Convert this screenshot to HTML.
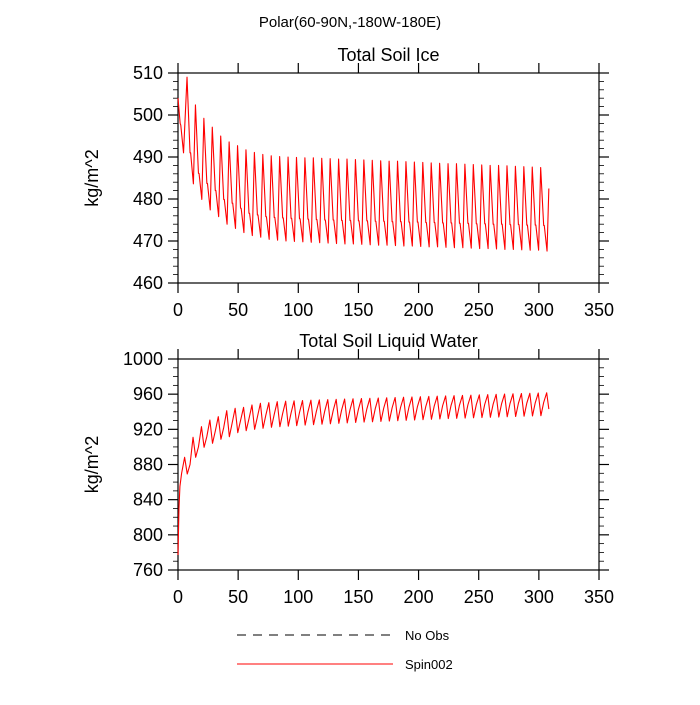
<!DOCTYPE html>
<html><head><meta charset="utf-8"><style>
html,body{margin:0;padding:0;background:#fff;}
svg text{font-family:"Liberation Sans",sans-serif;fill:#000;}
</style></head><body>
<svg id="chart" width="700" height="700" viewBox="0 0 700 700" xmlns="http://www.w3.org/2000/svg">
<text x="350" y="27" font-size="15" text-anchor="middle">Polar(60-90N,-180W-180E)</text>
<g id="p1"></g>
<g id="p2"></g>
<g>
<line x1="237" y1="635" x2="393" y2="635" stroke="#000" stroke-width="1" stroke-dasharray="9,7"/>
<text x="405" y="640" font-size="13">No Obs</text>
<line x1="237" y1="664" x2="393" y2="664" stroke="#f00" stroke-width="1"/>
<text x="405" y="669" font-size="13">Spin002</text>
</g>
</svg>
<script>
const xTicks=[0,50,100,150,200,250,300,350];
// Ice
const iceStartX=[0,1.8,2.3,4.6];
const iceStart=[504,498,497.6,491];
const icePeaks=[509,502.4,499.2,497.1,495,493.6,492.7,491.7,491.1,490.6,490.3,490.1,490,489.9,489.8,489.8,489.7,489.6,489.5,489.5,489.4,489.3,489.2,489.1,489,489,488.9,488.8,488.7,488.6,488.5,488.4,488.4,488.3,488.2,488.1,488,488,487.9,487.8,487.7,487.6,487.5];
const iceShoulders=[491,486.1,483.7,482,479.9,479,477.8,476.6,476.2,475.8,475.6,475.5,475.4,475.3,475.2,475.1,475,475,474.9,474.9,474.8,474.8,474.7,474.7,474.6,474.6,474.5,474.5,474.4,474.4,474.3,474.3,474.2,474.2,474.1,474.1,474,474,473.9,473.9,473.8,473.8,473.7];
const iceTroughs=[483.6,479.9,477.4,475.8,474,473,472,471.3,470.9,470.4,470.2,470,469.9,469.8,469.7,469.6,469.5,469.4,469.3,469.3,469.2,469.1,469,469,468.9,468.8,468.8,468.7,468.6,468.6,468.5,468.4,468.4,468.3,468.2,468.2,468.1,468,468,467.9,467.8,467.8,467.6];
const iceEnd=482.5;
const iceYTicks=[460,470,480,490,500,510];
// Liquid
const liqStartX=[0,0.8,1.6,3];
const liqStart=[777,830,855,870];
const liqPeaks=[888.2,910.9,923,930.6,934.4,941.2,943.9,945,947.7,949.6,950.3,951.5,952,952.4,952.8,953.2,953.5,953.8,954.1,954.4,954.7,955,955.3,955.6,955.9,956.2,956.5,956.8,957.1,957.4,957.7,958,958.3,958.6,958.9,959.2,959.5,959.8,960.1,960.4,960.7,961,961.3,961.6];
const liqTroughs=[869.2,888.2,899.6,904.1,908.7,911.6,916.2,918.5,920,921.2,922.3,923,923.6,924.2,924.8,925.3,925.8,926.3,926.8,927.3,927.8,928.2,928.6,929,929.4,929.8,930.2,930.6,931,931.4,931.8,932.2,932.5,932.8,933.1,933.4,933.7,934,934.3,934.6,934.9,935.2,935.5];
const liqShoulders=[880,900,912,918,922,927,930,932,934,936,937,938,938.6,939.2,939.8,940.3,940.8,941.3,941.8,942.3,942.8,943.2,943.6,944,944.4,944.8,945.2,945.6,946,946.4,946.8,947.2,947.5,947.8,948.1,948.4,948.7,949,949.3,949.6,949.9,950.2,950.5];
const liqEnd=943;
const liqYTicks=[760,800,840,880,920,960,1000];

const NS="http://www.w3.org/2000/svg";
function mk(parent,tag,attrs){const e=document.createElementNS(NS,tag);for(const k in attrs)e.setAttribute(k,attrs[k]);parent.appendChild(e);return e;}

function panel(g,top,bottom,ymin,ymax,yTicks,minorStep,title,pts,prefix){
  const L=178,R=599;
  const sx=v=>L+(v-0)/(350-0)*(R-L);
  const sy=v=>bottom-(v-ymin)/(ymax-ymin)*(bottom-top);
  const fr=mk(g,'rect',{x:L,y:top,width:R-L,height:bottom-top,fill:'none',stroke:'#000','stroke-width':1.2});
  
  
  const t=mk(g,'text',{x:(L+R)/2,y:top-12,'font-size':18,'text-anchor':'middle'});
  t.textContent=title;
  
  
  xTicks.forEach(v=>{
    const x=sx(v);
    const a=mk(g,'line',{x1:x,y1:bottom,x2:x,y2:bottom+10,stroke:'#000','stroke-width':1.2});
    
    
    mk(g,'line',{x1:x,y1:top,x2:x,y2:top-10,stroke:'#000','stroke-width':1.2});
    const l=mk(g,'text',{x:x,y:bottom+33,'font-size':18,'text-anchor':'middle'});
    l.textContent=v;
    
    
  });
  for(let v=ymin;v<=ymax+1e-9;v+=minorStep){
    const y=sy(v);const major=yTicks.includes(Math.round(v));
    const len=major?10:5;
    mk(g,'line',{x1:L,y1:y,x2:L-len,y2:y,stroke:'#000','stroke-width':major?1.2:0.8});
    mk(g,'line',{x1:R,y1:y,x2:R+len,y2:y,stroke:'#000','stroke-width':major?1.2:0.8});
  }
  yTicks.forEach(v=>{
    const l=mk(g,'text',{x:L-15,y:sy(v)+6,'font-size':18,'text-anchor':'end'});
    l.textContent=v;
    
    
  });
  const yl=mk(g,'text',{x:0,y:0,'font-size':18,'text-anchor':'middle',transform:`translate(98,${(top+bottom)/2}) rotate(-90)`});
  yl.textContent='kg/m^2';
  
  
  const d=pts.map((p,i)=>(i?'L':'M')+sx(p[0]).toFixed(2)+' '+sy(p[1]).toFixed(2)).join(' ');
  const path=mk(g,'path',{d:d,fill:'none',stroke:'#f00','stroke-width':1.1,'stroke-linejoin':'round'});
  
  
}

// Build ice series: peak at 7.5+7k, shoulder +2.5..+3.0, trough +5.3
const icePts=iceStartX.map((x,i)=>[x,iceStart[i]]);
icePeaks.forEach((p,k)=>{
  const t=7.5+7*k;
  icePts.push([t,p]);
  icePts.push([t+2.5,iceShoulders[k]]);
  icePts.push([t+3.0,iceShoulders[k]]);
  icePts.push([t+5.3,iceTroughs[k]]);
});
icePts.push([308.3,iceEnd]);

// Liquid: peak 5.5+7k, trough +2.2, shoulder +4.5
const liqPts=liqStartX.map((x,i)=>[x,liqStart[i]]);
liqPeaks.forEach((p,k)=>{
  const t=5.5+7*k;
  liqPts.push([t,p]);
  if(k<liqTroughs.length){
    liqPts.push([t+2.2,liqTroughs[k]]);
    liqPts.push([t+4.5,liqShoulders[k]]);
  }
});
liqPts.push([308.3,liqEnd]);

panel(document.getElementById('p1'),73,283,460,510,iceYTicks,2,'Total Soil Ice',icePts,'ice');
panel(document.getElementById('p2'),359,570,760,1000,liqYTicks,10,'Total Soil Liquid Water',liqPts,'liquid');
</script>
</body></html>
